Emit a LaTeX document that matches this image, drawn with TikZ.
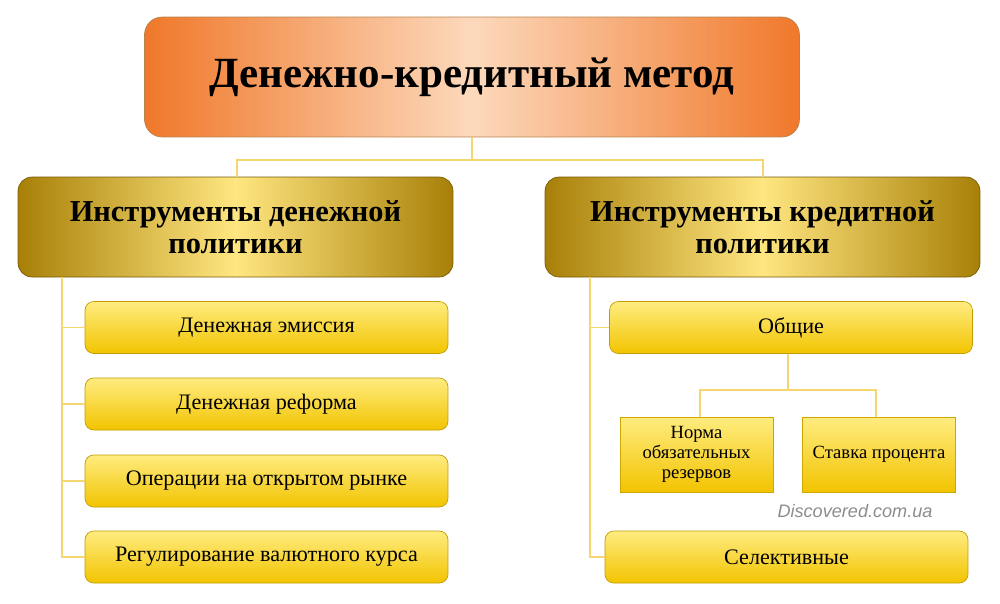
\documentclass[tikz,border=0pt]{standalone}
\usepackage{fontspec}
\setmainfont{Liberation Serif}
\newfontfamily\wm{Liberation Sans}
\begin{document}
\begin{tikzpicture}[x=0.02cm,y=-0.02cm,
  conn/.style={draw=lineyel,line width=0.9pt},
  titlebox/.style={rounded corners=10pt,draw=orange!60!black!70,left color=orangeD,right color=orangeD,middle color=orangeL,minimum width=13.1cm,minimum height=2.4cm,font=\bfseries\fontsize{24.5}{28}\selectfont},
  headbox/.style={rounded corners=8pt,draw=goldD!70!black,left color=goldD,right color=goldD,middle color=goldL,minimum width=8.7cm,minimum height=2cm,align=center,font=\bfseries\fontsize{17.3}{18}\selectfont},
  itembox/.style={rounded corners=5pt,draw=yelD!80!black,top color=yelL,bottom color=yelD,minimum width=7.26cm,minimum height=1.04cm,font=\fontsize{12.6}{14}\selectfont},
  smallbox/.style={draw=yelD!85!black,top color=yelL,bottom color=yelD,minimum width=3.06cm,minimum height=1.5cm,align=center,font=\fontsize{10.6}{11.2}\selectfont,inner sep=2pt}]
\definecolor{orangeD}{HTML}{F0782A}
\definecolor{orangeL}{HTML}{FCD9BC}
\definecolor{goldD}{HTML}{A88008}
\definecolor{goldL}{HTML}{FFE680}
\definecolor{yelL}{HTML}{FFEC80}
\definecolor{yelD}{HTML}{F2C400}
\definecolor{lineyel}{HTML}{F5D670}
\useasboundingbox (0,0) rectangle (1000,603);
\node[titlebox] (t) at (472,77) {Денежно-кредитный метод};
\node[headbox] (hl) at (235.5,227) {Инструменты денежной\\политики};
\node[headbox] (hr) at (762.5,227) {Инструменты кредитной\\политики};
\node[itembox] (l1) at (266.5,327.5) {Денежная эмиссия};
\node[itembox] (l2) at (266.5,404) {Денежная реформа};
\node[itembox] (l3) at (266.5,481) {Операции на открытом рынке};
\node[itembox] (l4) at (266.5,557) {Регулирование валютного курса};
\node[itembox] (r1) at (791,327.5) {Общие};
\node[itembox] (r2) at (786.5,557) {Селективные};
\node[smallbox] (s1) at (696.5,454.5) {Норма\\обязательных\\резервов};
\node[smallbox] (s2) at (879,454.5) {Ставка процента};
\node[text=gray!90,font=\wm\itshape\fontsize{10.3}{12}\selectfont] (w) at (855,511) {Discovered.com.ua};
\coordinate (tb) at (472,160);
\draw[conn] (t.south) -- (tb);
\draw[conn] (hl.north -| 237,0) |- (tb) -| (hr.north -| 763,0);
\coordinate (lv) at (62,277);
\draw[conn] (lv) |- (l4.west);
\foreach \n in {l1,l2,l3} \draw[conn] (\n.west -| lv) -- (\n.west);
\coordinate (rv) at (590,277);
\draw[conn] (rv) |- (r2.west);
\draw[conn] (r1.west -| rv) -- (r1.west);
\coordinate (rb) at (788,390);
\draw[conn] (r1.south -| rb) -- (rb);
\draw[conn] (s1.north -| 700,0) |- (rb) -| (s2.north -| 876,0);
\end{tikzpicture}
\end{document}
